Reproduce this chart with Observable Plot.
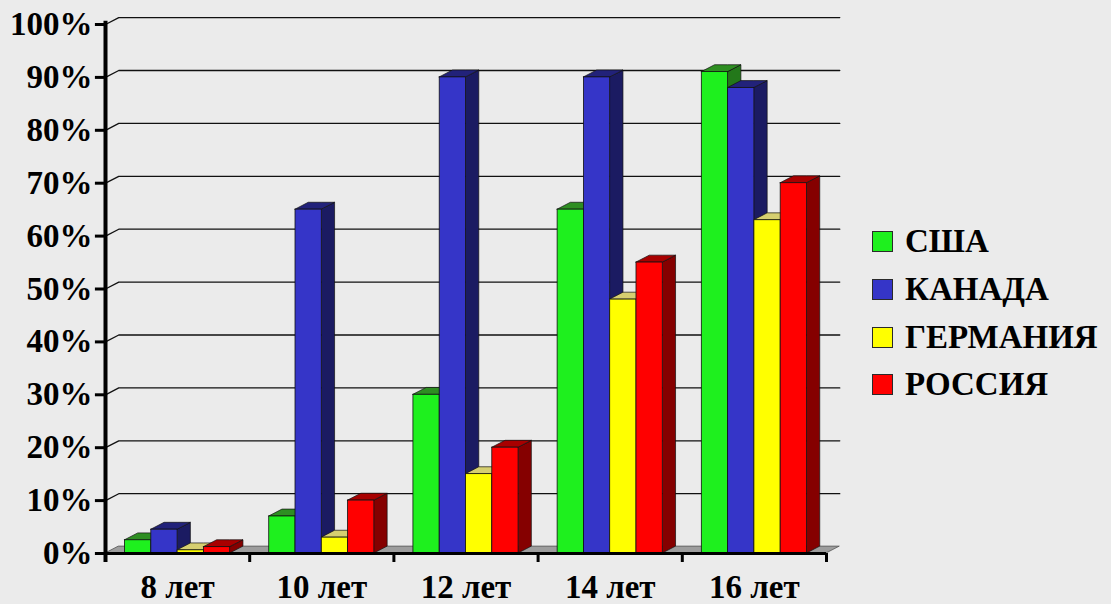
<!DOCTYPE html>
<html lang="ru">
<head>
<meta charset="utf-8">
<script src="https://cdn.jsdelivr.net/npm/d3@7"></script>
<script src="https://cdn.jsdelivr.net/npm/@observablehq/plot@0.6"></script>
<style>
  html, body { margin: 0; padding: 0; background: #ebebeb; }
  body { font-family: 'Liberation Serif', 'Times New Roman', serif; font-weight: bold; font-size: 33px; }
  #chart { position: relative; width: 1111px; height: 604px; overflow: hidden; }
  .legend { position: absolute; left: 872px; top: 218px; color: #000; }
  .legend .row { display: flex; align-items: center; height: 47.7px; }
  .legend .sw { width: 21px; height: 21px; box-sizing: border-box; border: 1px solid #2a2a2a; margin-right: 12px; }
</style>
</head>
<body>
<div id="chart"></div>
<script>
// Age groups on the x axis and the four countries of the series
const categories = ["8 лет", "10 лет", "12 лет", "14 лет", "16 лет"];
const countries = ["США", "КАНАДА", "ГЕРМАНИЯ", "РОССИЯ"];

// Share (%) per age group, one array per country
const usa     = [2.5, 7, 30, 65, 91];
const canada  = [4.5, 65, 90, 90, 88];
const germany = [0.6, 3, 15, 48, 63];
const russia  = [1.2, 10, 20, 55, 70];

// Value-axis ticks
const yTicks = [0, 10, 20, 30, 40, 50, 60, 70, 80, 90, 100];

// Face colours: front, top and right side of each 3D column
const frontColors = ["#1ef01e", "#3535c8", "#ffff00", "#ff0000"];
const topColors   = ["#2e8e22", "#22227a", "#d6cf70", "#a80000"];
const sideColors  = ["#23781a", "#1b1b62", "#aaa243", "#850000"];

const FONT = "'Liberation Serif', 'Times New Roman', serif";

// Column geometry in x-scale units (one unit per age group) and depth offset
const BAR = 0.1823;   // width of one column
const DX = 0.092;     // depth shift to the right
const DY = 1.3;       // depth shift upward, in % units

const series = [usa, canada, germany, russia];
const rows = [];
categories.forEach((cat, ci) => {
  series.forEach((vals, k) => {
    const x1 = ci + 0.5 + (k - 2) * BAR;
    rows.push({id: ci * 4 + k, cat, country: countries[k], k, value: vals[ci], x1, x2: x1 + BAR});
  });
});

// Right side faces as parallelograms
const sides = rows.flatMap(r => [
  {id: r.id, k: r.k, x: r.x2, y1: 0, y2: r.value},
  {id: r.id, k: r.k, x: r.x2 + DX, y1: DY, y2: r.value + DY}
]);

// Top faces as parallelograms
const tops = rows.flatMap(r => {
  const v = r.value;
  return [
    {id: r.id, k: r.k, x: r.x1, y1: v, y2: v},
    {id: r.id, k: r.k, x: r.x1 + DX, y1: v, y2: v + DY},
    {id: r.id, k: r.k, x: r.x2, y1: v, y2: v + DY},
    {id: r.id, k: r.k, x: r.x2 + DX, y1: v + DY, y2: v + DY}
  ];
});

const n = categories.length;

// Floor of the chart box
const floor = [
  {x: 0, y1: 0, y2: 0},
  {x: DX, y1: 0, y2: DY},
  {x: n, y1: 0, y2: DY},
  {x: n + DX, y1: DY, y2: DY}
];

// Gridlines on the back wall, joined to the axis ticks by a short slant
const grid = yTicks.slice(1).flatMap(t => [
  {t, x: 0, y: t},
  {t, x: DX, y: t + DY},
  {t, x: n + DX, y: t + DY}
]);

const boundaries = d3.range(1, n + 1);
const catPos = categories.map((c, i) => ({c, x: i + 0.5}));

const textStyle = {fontFamily: "Liberation Serif", fontWeight: "bold", fontSize: 33, fill: "#000"};

const svg = Plot.plot({
  width: 1111,
  height: 604,
  marginLeft: 105,
  marginRight: 285,
  marginTop: 24,
  marginBottom: 51,
  x: {domain: [0, n], axis: null},
  y: {domain: [0, 100], axis: null},
  color: {type: "identity"},
  style: {background: "transparent", overflow: "visible"},
  marks: [
    Plot.areaY(floor, {x: "x", y1: "y1", y2: "y2", fill: "#9d9d9d", stroke: "#555", strokeWidth: 0.8}),
    Plot.line(grid, {x: "x", y: "y", z: "t", stroke: "#111", strokeWidth: 1.3}),
    Plot.areaY(sides, {x: "x", y1: "y1", y2: "y2", z: "id", fill: d => sideColors[d.k], stroke: "#111", strokeWidth: 0.7}),
    Plot.areaY(tops, {x: "x", y1: "y1", y2: "y2", z: "id", fill: d => topColors[d.k], stroke: "#111", strokeWidth: 0.7}),
    Plot.rectY(rows, {x1: "x1", x2: "x2", y: "value", fill: d => frontColors[d.k], stroke: "#111", strokeWidth: 0.8}),
    // axes
    Plot.ruleY([0], {x1: 0, x2: n, stroke: "#000", strokeWidth: 3}),
    Plot.ruleX([0], {y1: -1.7, y2: 100.6, stroke: "#000", strokeWidth: 4}),
    Plot.ruleX(boundaries, {x: d => d, y1: 0, y2: -1.7, stroke: "#000", strokeWidth: 3}),
    Plot.ruleY(yTicks, {y: d => d, x1: -0.07, x2: 0, stroke: "#000", strokeWidth: 3}),
    Plot.text(yTicks, {x: 0, y: d => d, dx: -13, textAnchor: "end", text: d => d + "%", ...textStyle}),
    Plot.text(catPos, {x: "x", y: 0, dy: 34, text: "c", ...textStyle})
  ]
});

const chart = document.getElementById("chart");
chart.appendChild(svg);

// Legend at the right
const legend = document.createElement("div");
legend.className = "legend";
countries.forEach((name, k) => {
  const row = document.createElement("div");
  row.className = "row";
  const sw = document.createElement("span");
  sw.className = "sw";
  sw.style.background = frontColors[k];
  const label = document.createElement("span");
  label.textContent = name;
  label.style.fontFamily = FONT;
  row.appendChild(sw);
  row.appendChild(label);
  legend.appendChild(row);
});
chart.appendChild(legend);
</script>
</body>
</html>
